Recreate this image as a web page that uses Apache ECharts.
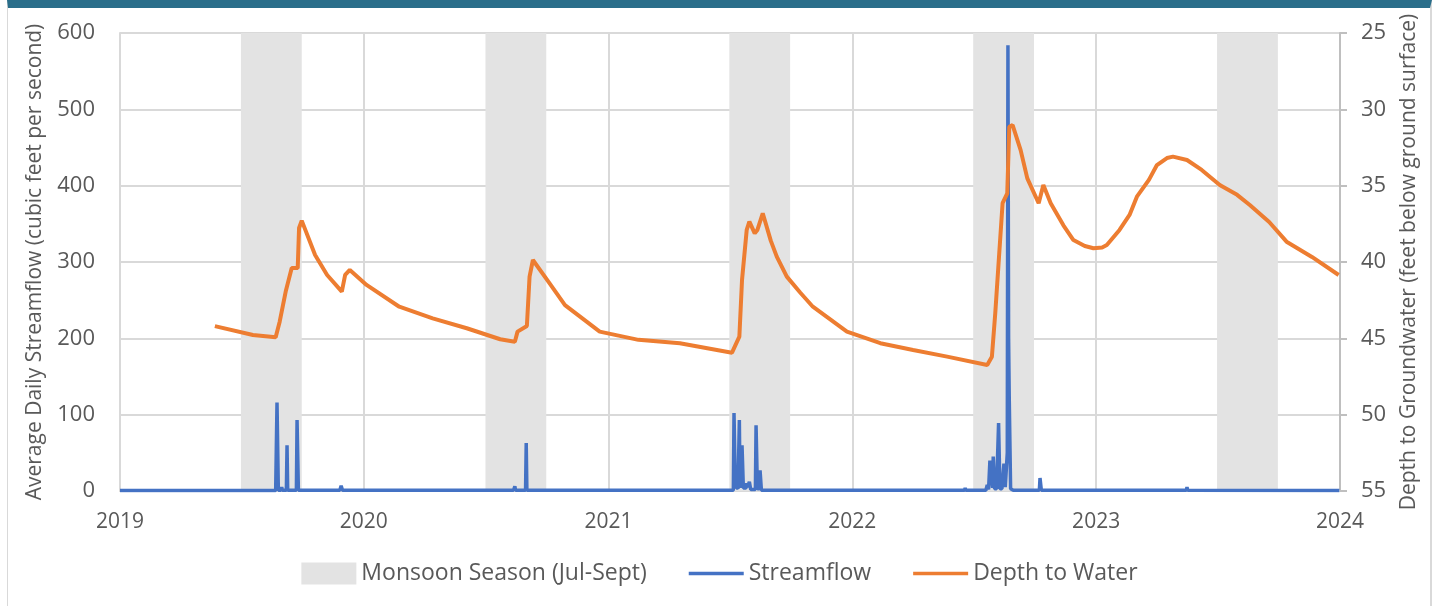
<!DOCTYPE html>
<html>
<head>
<meta charset="utf-8">
<script src="https://cdn.jsdelivr.net/npm/echarts@6/dist/echarts.min.js"></script>
<style>
  html, body { margin: 0; padding: 0; background: #fff; }
  #wrap { position: relative; width: 1439px; height: 606px; }
  #chart { position: absolute; left: 0; top: 0; width: 1439px; height: 606px; }
  #frame {
    position: absolute; left: 7px; top: 0; width: 1425px; height: 606px;
    border-top: 8px solid #2a6e8a; border-left: 1px solid #d9d9d9; border-right: 2px solid #d9d9d9;
    box-sizing: border-box; pointer-events: none;
  }
</style>
</head>
<body>
<div id="wrap">
  <div id="chart"></div>
  <div id="frame"></div>
</div>
<script>
// monsoon season (Jul-Sept) bands
var monsoonSeasons = [
  ['2019-07-01', '2019-09-30'],
  ['2020-07-01', '2020-09-30'],
  ['2021-07-01', '2021-09-30'],
  ['2022-07-01', '2022-09-30'],
  ['2023-07-01', '2023-09-30']
];

var yearTicks = ['2019', '2020', '2021', '2022', '2023', '2024'];

// average daily streamflow, cfs
var streamflow = [
  ['2019-01-01', 0.5], ['2019-08-22', 0.5], ['2019-08-24', 116], ['2019-08-26', 1],
  ['2019-08-30', 1], ['2019-08-31', 5], ['2019-09-01', 1], ['2019-09-07', 1],
  ['2019-09-08', 60], ['2019-09-09', 1], ['2019-09-22', 1], ['2019-09-23', 93],
  ['2019-09-25', 1], ['2019-11-26', 1], ['2019-11-28', 7], ['2019-11-30', 1],
  ['2020-08-12', 1], ['2020-08-14', 6], ['2020-08-15', 1], ['2020-08-30', 1],
  ['2020-08-31', 63], ['2020-09-01', 1],
  ['2021-06-20', 1], ['2021-06-21', 3], ['2021-06-22', 1], ['2021-07-07', 1],
  ['2021-07-08', 102], ['2021-07-10', 6], ['2021-07-12', 4], ['2021-07-14', 3],
  ['2021-07-16', 93], ['2021-07-17', 4], ['2021-07-19', 4], ['2021-07-20', 60],
  ['2021-07-22', 4], ['2021-07-26', 4], ['2021-07-27', 10], ['2021-07-28', 5],
  ['2021-07-31', 12], ['2021-08-02', 2], ['2021-08-09', 2], ['2021-08-10', 86],
  ['2021-08-12', 3], ['2021-08-15', 3], ['2021-08-16', 27], ['2021-08-18', 1],
  ['2022-06-18', 1], ['2022-06-19', 4], ['2022-06-20', 1], ['2022-07-20', 1],
  ['2022-07-22', 8], ['2022-07-24', 2], ['2022-07-26', 40], ['2022-07-28', 42],
  ['2022-07-30', 4], ['2022-07-31', 45], ['2022-08-02', 3], ['2022-08-05', 3],
  ['2022-08-08', 89], ['2022-08-10', 3], ['2022-08-13', 3], ['2022-08-16', 36],
  ['2022-08-18', 5], ['2022-08-21', 50], ['2022-08-22', 584], ['2022-08-23', 200],
  ['2022-08-24', 119], ['2022-08-26', 3], ['2022-08-30', 1], ['2022-10-08', 1],
  ['2022-10-09', 17], ['2022-10-11', 1], ['2023-05-16', 1], ['2023-05-17', 5],
  ['2023-05-18', 1], ['2023-12-31', 0.5]
];

// depth to groundwater, feet below ground surface
var depthToWater = [
  ['2019-05-23', 44.2], ['2019-07-19', 44.78], ['2019-08-22', 44.93], ['2019-08-28', 43.91],
  ['2019-09-06', 41.94], ['2019-09-15', 40.4], ['2019-09-24', 40.4], ['2019-09-26', 37.77],
  ['2019-09-30', 37.29], ['2019-10-20', 39.54], ['2019-11-07', 40.85], ['2019-11-29', 41.94],
  ['2019-12-04', 40.85], ['2019-12-11', 40.52], ['2020-01-05', 41.5], ['2020-02-23', 42.93],
  ['2020-04-13', 43.69], ['2020-06-03', 44.34], ['2020-07-23', 45.06], ['2020-08-14', 45.22],
  ['2020-08-18', 44.56], ['2020-09-01', 44.19], ['2020-09-05', 40.96], ['2020-09-10', 39.87],
  ['2020-10-05', 41.4], ['2020-10-28', 42.82], ['2020-12-19', 44.56], ['2021-02-15', 45.1],
  ['2021-04-18', 45.32], ['2021-07-05', 45.94], ['2021-07-16', 44.89], ['2021-07-20', 41.18],
  ['2021-07-27', 37.9], ['2021-07-31', 37.36], ['2021-08-08', 38.12], ['2021-08-12', 37.9],
  ['2021-08-20', 36.81], ['2021-09-01', 38.6], ['2021-09-10', 39.65], ['2021-09-25', 40.96],
  ['2021-10-15', 42.0], ['2021-11-03', 42.93], ['2021-12-24', 44.56], ['2022-02-12', 45.32],
  ['2022-04-02', 45.76], ['2022-05-23', 46.2], ['2022-07-22', 46.75], ['2022-07-29', 46.2],
  ['2022-08-03', 43.36], ['2022-08-08', 40.08], ['2022-08-14', 36.15], ['2022-08-21', 35.5],
  ['2022-08-24', 31.14], ['2022-08-29', 31.03], ['2022-09-10', 32.67], ['2022-09-20', 34.52],
  ['2022-10-07', 36.15], ['2022-10-14', 34.96], ['2022-10-25', 36.15], ['2022-11-13', 37.6],
  ['2022-11-28', 38.56], ['2022-12-15', 38.95], ['2022-12-28', 39.1], ['2023-01-10', 39.05],
  ['2023-01-17', 38.89], ['2023-02-05', 37.9], ['2023-02-20', 36.92], ['2023-03-03', 35.72],
  ['2023-03-21', 34.62], ['2023-04-02', 33.65], ['2023-04-17', 33.19], ['2023-04-26', 33.1],
  ['2023-05-17', 33.32], ['2023-06-08', 33.97], ['2023-07-05', 34.96], ['2023-07-31', 35.6],
  ['2023-08-19', 36.27], ['2023-09-17', 37.38], ['2023-10-13', 38.67], ['2023-11-20', 39.67],
  ['2023-12-30', 40.85]
];

var textColor = '#595959';
var fontFamily = '"Open Sans", sans-serif';
var oneYear = 365 * 24 * 3600 * 1000;
var lineIcon = 'path://M0,0 L60,0 L60,4 L0,4 Z';

var chart = echarts.init(document.getElementById('chart'), null, { renderer: 'canvas' });

var option = {
  animation: false,
  textStyle: { fontFamily: fontFamily, color: textColor },
  grid: { left: 120, right: 99, top: 33, bottom: 115, containLabel: false },
  legend: {
    bottom: 16,
    left: 'center',
    itemWidth: 55,
    itemHeight: 22,
    itemGap: 42,
    itemTextGap: 6,
    textStyle: { fontSize: 23, color: textColor, fontFamily: fontFamily },
    data: [
      { name: 'Monsoon Season (Jul-Sept)', icon: 'rect', itemStyle: { color: '#e3e3e3' } },
      { name: 'Streamflow', icon: lineIcon },
      { name: 'Depth to Water', icon: lineIcon }
    ]
  },
  xAxis: {
    type: 'time',
    min: yearTicks[0] + '-01-01',
    max: yearTicks[yearTicks.length - 1] + '-01-01',
    minInterval: oneYear,
    maxInterval: oneYear + 24 * 3600 * 1000,
    axisLine: { show: true, lineStyle: { color: '#d9d9d9', width: 2 } },
    axisTick: { show: false },
    splitLine: { show: true, lineStyle: { color: '#d9d9d9', width: 2 } },
    axisLabel: {
      formatter: '{yyyy}',
      fontSize: 21,
      color: textColor,
      margin: 21,
      showMinLabel: true,
      showMaxLabel: true
    }
  },
  yAxis: [{
    type: 'value',
    min: 0,
    max: 600,
    interval: 100,
    name: 'Average Daily Streamflow (cubic feet per second)',
    nameLocation: 'middle',
    nameGap: 74,
    nameTextStyle: { fontSize: 21, color: textColor },
    axisLine: { show: true, lineStyle: { color: '#d9d9d9', width: 2 } },
    axisTick: { show: false },
    splitLine: { show: true, lineStyle: { color: '#d9d9d9', width: 2 } },
    axisLabel: { fontSize: 22, color: textColor, margin: 25 }
  }, {
    type: 'value',
    position: 'right',
    inverse: true,
    min: 25,
    max: 55,
    interval: 5,
    name: 'Depth to Groundwater (feet below ground surface)',
    nameLocation: 'middle',
    nameGap: 59,
    nameTextStyle: { fontSize: 21, color: textColor },
    axisLine: { show: true, lineStyle: { color: '#bfbfbf', width: 2 } },
    axisTick: { show: true, length: 7, lineStyle: { color: '#bfbfbf', width: 2 } },
    splitLine: { show: false },
    axisLabel: { fontSize: 22, color: textColor, margin: 21 }
  }],
  series: [{
    name: 'Monsoon Season (Jul-Sept)',
    type: 'line',
    data: [],
    color: '#e3e3e3',
    z: 1,
    markArea: {
      silent: true,
      itemStyle: { color: '#e3e3e3', opacity: 1 },
      data: monsoonSeasons.map(function (s) {
        return [{ xAxis: s[0] }, { xAxis: s[1] }];
      })
    }
  }, {
    name: 'Streamflow',
    type: 'line',
    yAxisIndex: 0,
    data: streamflow,
    symbol: 'none',
    color: '#4472c4',
    lineStyle: { width: 3.5, color: '#4472c4' },
    z: 3
  }, {
    name: 'Depth to Water',
    type: 'line',
    yAxisIndex: 1,
    data: depthToWater,
    symbol: 'none',
    color: '#ed7d31',
    lineStyle: { width: 4, color: '#ed7d31' },
    z: 4
  }]
};

chart.setOption(option);
</script>
</body>
</html>
